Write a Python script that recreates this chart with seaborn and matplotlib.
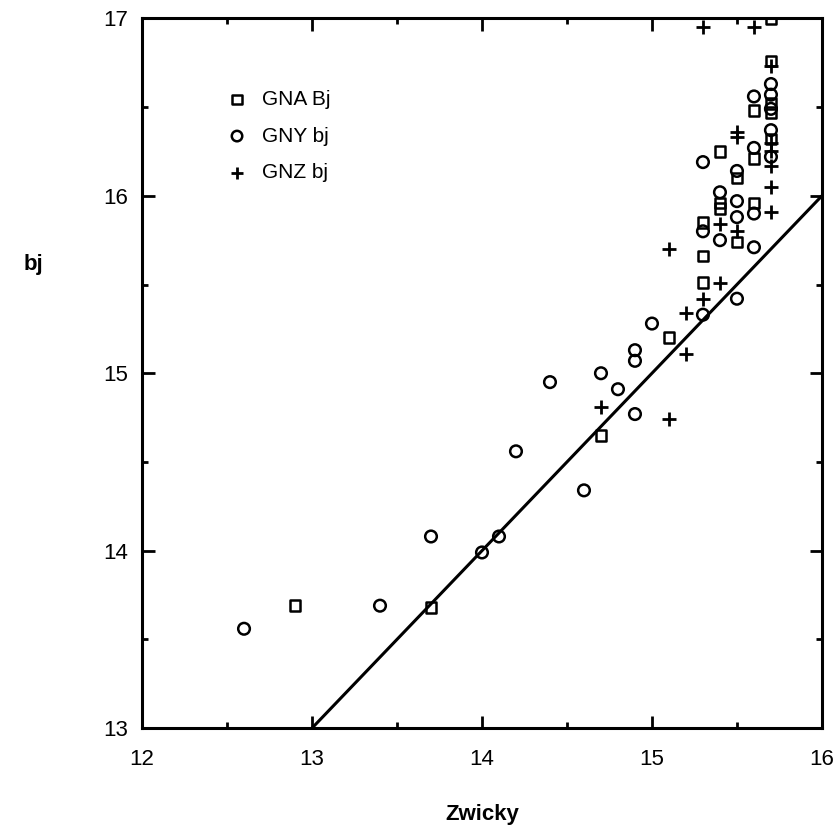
import matplotlib
matplotlib.use("Agg")
import matplotlib.pyplot as plt
import seaborn as sns
import pandas as pd
from matplotlib.ticker import MultipleLocator

sns.set_theme(style="white")
plt.rcParams['font.family'] = ['Liberation Sans', 'DejaVu Sans']
plt.rcParams['text.color'] = 'black'
plt.rcParams['xtick.color'] = 'black'
plt.rcParams['ytick.color'] = 'black'

# GNA Bj (squares)
gna_x = [12.9, 13.7, 14.7, 15.1, 15.3, 15.3, 15.3, 15.4, 15.4, 15.4, 15.5, 15.5,
         15.6, 15.6, 15.6, 15.7, 15.7, 15.7, 15.7, 15.7]
gna_y = [13.69, 13.68, 14.65, 15.20, 15.51, 15.66, 15.85, 15.96, 15.93, 16.25, 15.74, 16.10,
         15.96, 16.21, 16.48, 16.52, 16.47, 16.76, 17.00, 16.32]
# GNY bj (circles)
gny_x = [12.6, 13.4, 13.7, 14.0, 14.1, 14.2, 14.4, 14.6, 14.7, 14.8, 14.9, 14.9, 14.9,
         15.0, 15.3, 15.3, 15.3, 15.4, 15.4, 15.5, 15.5, 15.5, 15.5, 15.6, 15.6, 15.6,
         15.6, 15.7, 15.7, 15.7, 15.7, 15.7]
gny_y = [13.56, 13.69, 14.08, 13.99, 14.08, 14.56, 14.95, 14.34, 15.00, 14.91, 14.77, 15.07, 15.13,
         15.28, 15.33, 15.80, 16.19, 15.75, 16.02, 15.42, 15.88, 15.97, 16.14, 15.71, 15.90, 16.27,
         16.56, 16.63, 16.57, 16.49, 16.37, 16.22]
# GNZ bj (plus)
gnz_x = [14.7, 15.1, 15.1, 15.2, 15.2, 15.3, 15.3, 15.4, 15.4, 15.5, 15.5, 15.5, 15.6,
         15.7, 15.7, 15.7, 15.7, 15.7, 15.7]
gnz_y = [14.81, 14.74, 15.70, 15.11, 15.34, 15.42, 16.95, 15.51, 15.84, 15.80, 16.36, 16.33, 16.95,
         15.91, 16.05, 16.17, 16.25, 16.30, 16.73]

line_x = [13, 16]
line_y = [13, 16]

fig = plt.figure(figsize=(8.37, 8.35), dpi=100)
ax = fig.add_axes([0.1697, 0.128, 0.8123, 0.850])

sns.scatterplot(x=gna_x, y=gna_y, ax=ax, marker='s', s=58, facecolors='none',
                edgecolor='black', linewidth=1.8, label='GNA Bj')
sns.scatterplot(x=gny_x, y=gny_y, ax=ax, marker='o', s=70, facecolors='none',
                edgecolor='black', linewidth=1.8, label='GNY bj')
sns.scatterplot(x=gnz_x, y=gnz_y, ax=ax, marker='+', s=100, color='black',
                linewidth=2.0, label='GNZ bj')
sns.lineplot(x=line_x, y=line_y, ax=ax, color='black', linewidth=2.2, legend=False)

ax.set_xlim(12, 16)
ax.set_ylim(13, 17)
ax.xaxis.set_major_locator(MultipleLocator(1))
ax.yaxis.set_major_locator(MultipleLocator(1))
ax.xaxis.set_minor_locator(MultipleLocator(0.5))
ax.yaxis.set_minor_locator(MultipleLocator(0.5))
ax.tick_params(which='both', direction='in', top=True, right=True, bottom=True, left=True,
               color='black', width=2)
ax.tick_params(which='major', length=9, labelsize=16, pad=10, labelcolor='black')
ax.tick_params(axis='x', which='major', pad=15)
ax.tick_params(which='minor', length=4)
for sp in ax.spines.values():
    sp.set_color('black')
    sp.set_linewidth(2.2)
ax.set_xlabel('')
ax.set_ylabel('')

fig.text(0.576, 0.012, 'Zwicky', ha='center', va='bottom', fontsize=16, fontweight='bold',
         color='black')
fig.text(0.028, 0.683, 'bj', ha='left', va='center', fontsize=16, fontweight='bold',
         color='black')

leg = ax.legend(loc='upper left', bbox_to_anchor=(0.106, 0.914), frameon=False,
                fontsize=15, labelspacing=0.85, handletextpad=0.6, handlelength=1.2,
                borderpad=0, markerscale=0.9)
for t in leg.get_texts():
    t.set_color('black')

fig.savefig('out.png', dpi=100)
